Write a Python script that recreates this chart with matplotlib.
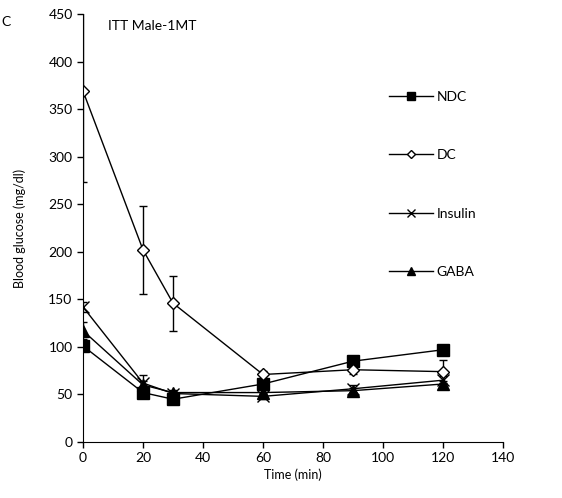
import matplotlib
matplotlib.use("Agg")
import matplotlib.pyplot as plt

plt.rcParams["font.family"] = ["Lato", "DejaVu Sans"]
plt.rcParams["font.size"] = 10

time = [0, 20, 30, 60, 90, 120]

ndc = [101, 52, 45, 61, 85, 97]
ndc_err = [4, 3, 3, 3, 4, 4]

dc = [369, 202, 146, 71, 76, 74]
dc_err = [96, 46, 29, 4, 5, 12]

insulin = [142, 62, 51, 48, 56, 65]
insulin_err = [5, 8, 3, 3, 4, 4]

gaba = [117, 60, 52, 52, 54, 61]
gaba_err = [9, 4, 3, 3, 3, 3]

fig = plt.figure(figsize=(5.62, 4.98), dpi=100)
ax = fig.add_axes([0.1477, 0.1124, 0.7473, 0.8595])

series = [
    ("NDC", ndc, ndc_err, dict(marker="s", markersize=8, markerfacecolor="black")),
    ("DC", dc, dc_err, dict(marker="D", markersize=6, markerfacecolor="white")),
    ("Insulin", insulin, insulin_err, dict(marker="x", markersize=8, markeredgewidth=1.0)),
    ("GABA", gaba, gaba_err, dict(marker="^", markersize=8, markerfacecolor="black")),
]

for name, vals, errs, style in series:
    ax.errorbar(time, vals, yerr=errs, color="black", linewidth=1.0,
                markeredgecolor="black", ecolor="black", elinewidth=1.0,
                capsize=3, capthick=1.0, label=name, **style)

ax.set_xlim(0, 140)
ax.set_ylim(0, 450)
ax.set_xticks(range(0, 141, 20))
ax.set_yticks(range(0, 451, 50))
ax.spines["top"].set_visible(False)
ax.spines["right"].set_visible(False)
ax.tick_params(direction="out", length=4, width=1)

ax.set_xlabel("Time (min)", fontsize=9, labelpad=3)
ax.set_ylabel("Blood glucose (mg/dl)", fontsize=9, labelpad=16)

ax.text(0.06, 0.985, "ITT Male-1MT", transform=ax.transAxes, fontsize=10,
        va="top", ha="left")

handles, labels = ax.get_legend_handles_labels()
handles = [h[0] for h in handles]
ax.legend(handles, labels, frameon=False, loc="upper left",
          bbox_to_anchor=(0.7, 0.85), handlelength=3.1, labelspacing=3.35,
          handletextpad=0.3, fontsize=10, markerscale=0.7)

fig.text(0.002, 0.955, "C", fontsize=10, ha="left", va="center")

fig.savefig("out.png", dpi=100)
